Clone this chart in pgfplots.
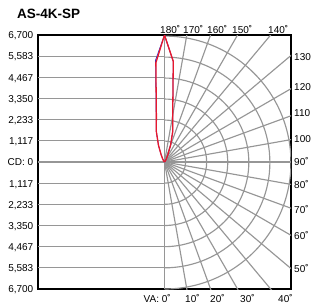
\documentclass[border=0pt]{standalone}
\usepackage{pgfplots}
\pgfplotsset{compat=1.18}
\usepackage{fontspec}
\setmainfont{Liberation Sans}
\definecolor{gridgray}{RGB}{150,150,150}
\definecolor{curvered}{RGB}{232,24,44}
\definecolor{curveblue}{RGB}{50,50,200}
\newcommand{\dg}{˚}
\begin{document}
\begin{tikzpicture}
\useasboundingbox (0pt,0pt) rectangle (311pt,-305pt);
\begin{axis}[
  at={(38pt,-289pt)}, anchor=south west,
  scale only axis, width=253pt, height=254pt,
  xmin=-6700, xmax=6700, ymin=-6700, ymax=6700,
  xtick=\empty, ytick=\empty,
  axis line style={black, line width=1.1pt},
  clip=true,
]
% left half: horizontal grid
\pgfplotsinvokeforeach{1117,2233,3350,4467,5583}{
  \draw[gridgray, line width=1.15pt] (axis cs:-6700,#1) -- (axis cs:0,#1);
  \draw[gridgray, line width=1.15pt] (axis cs:-6700,-#1) -- (axis cs:0,-#1);
}
\draw[gridgray, line width=1.15pt] (axis cs:-6700,0) -- (axis cs:6700,0);
\draw[gridgray, line width=1.15pt] (axis cs:0,-6700) -- (axis cs:0,6700);
% right half: radial lines every 10 degrees
\pgfplotsinvokeforeach{10,20,30,40,50,60,70,80,100,110,120,130,140,150,160,170}{
  \draw[gridgray, line width=1.15pt] (axis cs:0,0) -- (axis cs:{9800*cos(#1-90)},{9800*sin(#1-90)});
}
% right half: circles
\pgfplotsinvokeforeach{1117,2233,3350,4467,5583,6700}{
  \draw[gridgray, line width=1.15pt] (axis cs:0,-#1) arc[start angle=-90, end angle=90, radius={#1*0.018881pt}];
}
% candela curves (polar angle, cd)
\addplot[curveblue, line width=0.8pt, data cs=polar] table {
angle cd
40 0
50 40
55 100
60 200
65 420
70 930
75 1700
80 2500
85 5330
90 6700
95 5400
100 2540
105 1700
110 930
115 420
120 200
125 100
130 40
140 0
};
\addplot[curvered, line width=1.3pt, data cs=polar] table {
angle cd
40 0
50 40
55 100
60 200
65 420
70 930
75 1700
80 2500
85 5330
90 6700
95 5250
100 2480
105 1680
110 930
115 420
120 200
125 100
130 40
140 0
};
\end{axis}
% title
\node[anchor=base west, inner sep=0pt, font=\fontsize{13.5}{15}\selectfont\bfseries] at (17pt,-18.3pt) {AS-4K-SP};
% left labels
\begin{scope}[every node/.style={anchor=base east, inner sep=0pt, font=\fontsize{10}{12}\selectfont}]
\node at (33.5pt,-38.8pt) {6,700};
\node at (33.5pt,-60.0pt) {5,583};
\node at (33.5pt,-81.1pt) {4,467};
\node at (33.5pt,-102.3pt) {3,350};
\node at (33.5pt,-123.5pt) {2,233};
\node at (33.5pt,-144.6pt) {1,117};
\node at (33.5pt,-165.8pt) {CD: 0};
\node at (33.5pt,-187.0pt) {1,117};
\node at (33.5pt,-208.1pt) {2,233};
\node at (33.5pt,-229.3pt) {3,350};
\node at (33.5pt,-250.5pt) {4,467};
\node at (33.5pt,-271.6pt) {5,583};
\node at (33.5pt,-292.8pt) {6,700};
\end{scope}
% top and bottom labels
\begin{scope}[every node/.style={anchor=base west, inner sep=0pt, font=\fontsize{10}{12}\selectfont}]
\node at (160pt,-33.3pt) {180\dg};
\node at (183pt,-33.3pt) {170\dg};
\node at (207pt,-33.3pt) {160\dg};
\node at (232pt,-33.3pt) {150\dg};
\node at (268pt,-33.3pt) {140\dg};
\node at (143.5pt,-302pt) {VA: 0\dg};
\node at (185pt,-302pt) {10\dg};
\node at (210pt,-302pt) {20\dg};
\node at (240pt,-302pt) {30\dg};
\node at (278pt,-302pt) {40\dg};
\end{scope}
% right labels
\begin{scope}[every node/.style={anchor=base west, inner sep=0pt, font=\fontsize{10}{12}\selectfont}]
\node at (294pt,-60.6pt) {130};
\node at (294pt,-90.6pt) {120};
\node at (294pt,-116.6pt) {110};
\node at (294pt,-142.6pt) {100};
\node at (294pt,-165.6pt) {90\dg};
\node at (294pt,-188.6pt) {80\dg};
\node at (294pt,-213.6pt) {70\dg};
\node at (294pt,-239.6pt) {60\dg};
\node at (294pt,-272.6pt) {50\dg};
\end{scope}
\end{tikzpicture}
\end{document}
